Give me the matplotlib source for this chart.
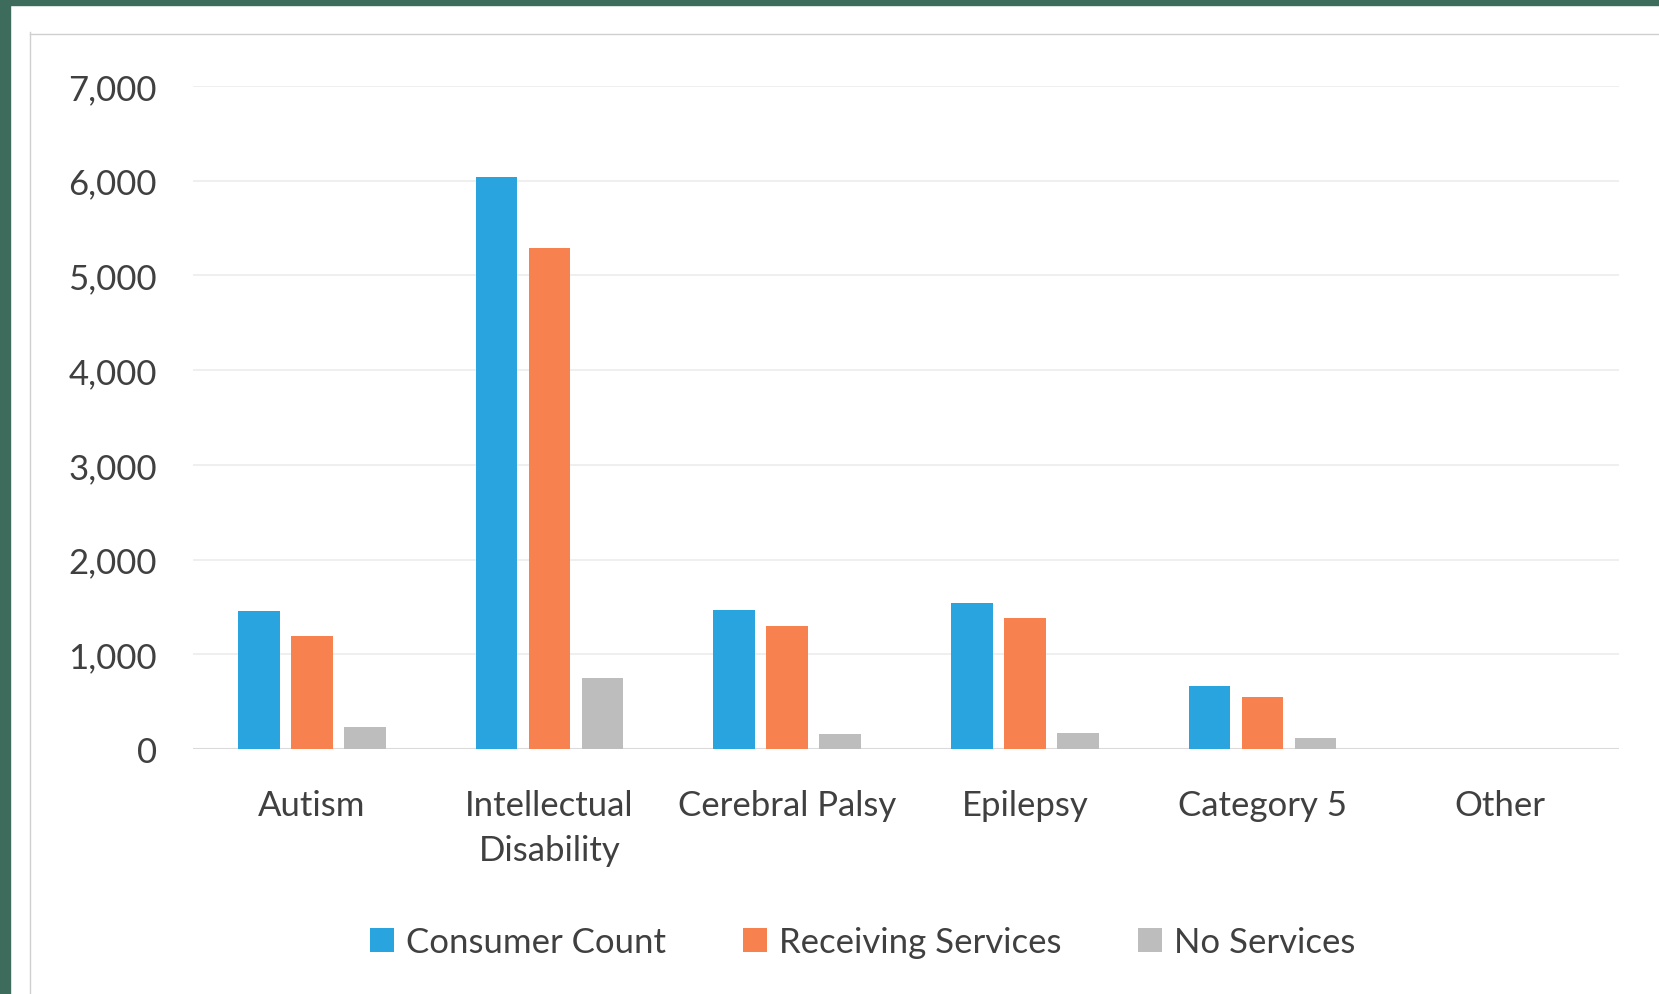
import matplotlib.pyplot as plt
import numpy as np
from matplotlib.patches import Rectangle
from matplotlib.lines import Line2D

categories = ['Autism', 'Intellectual\nDisability', 'Cerebral Palsy', 'Epilepsy', 'Category 5', 'Other']
consumer_count = [1460, 6040, 1470, 1540, 670, 0]
receiving_services = [1190, 5290, 1295, 1385, 550, 0]
no_services = [235, 750, 160, 170, 120, 0]
yticks = [0, 1000, 2000, 3000, 4000, 5000, 6000, 7000]

plt.rcParams['font.family'] = ['Lato', 'DejaVu Sans']
text_color = '#404040'

fig = plt.figure(figsize=(16.59, 9.95), dpi=100)
W, H = 1659, 995

# scanned page frame: green border top/left, faint chart box line
fig.patches.append(Rectangle((0, 0), 10 / W, 1, transform=fig.transFigure, color='#3d6b5c', zorder=0))
fig.patches.append(Rectangle((0, 1 - 6 / H), 1, 6 / H, transform=fig.transFigure, color='#3d6b5c', zorder=0))
fig.lines.append(Line2D([30 / W, 30 / W], [0, 1 - 33 / H], transform=fig.transFigure, color='#d0d0d0', lw=1))
fig.lines.append(Line2D([30 / W, 1], [1 - 35 / H, 1 - 35 / H], transform=fig.transFigure, color='#d0d0d0', lw=1))

ax = fig.add_axes([193 / W, 1 - 750 / H, (1619 - 193) / W, (750 - 87) / H])

x = np.arange(len(categories))
w = 0.175
off = 0.223
ax.bar(x - off, consumer_count, w, color='#2aa4df', label='Consumer Count', zorder=3)
ax.bar(x, receiving_services, w, color='#f7814f', label='Receiving Services', zorder=3)
ax.bar(x + off, no_services, w, color='#bdbdbd', label='No Services', zorder=3)

ax.set_xlim(-0.5, 5.5)
ax.set_ylim(0, 7000)
ax.set_yticks(yticks)
ax.set_yticklabels([f'{v:,}' for v in yticks])
ax.set_xticks(x)
ax.set_xticklabels(categories, linespacing=1.5)
ax.yaxis.grid(True, color='#ececec', lw=1.2, zorder=0)
ax.axhline(0, color='#dadada', lw=1.5, zorder=2)
for s in ax.spines.values():
    s.set_visible(False)
ax.tick_params(axis='y', length=0, pad=26, labelsize=25, labelcolor=text_color)
ax.tick_params(axis='x', length=0, pad=29, labelsize=25, labelcolor=text_color)

fig.legend(loc='center', bbox_to_anchor=(0.52, 1 - 943 / H), ncol=3, frameon=False,
           fontsize=25, labelcolor=text_color, handlelength=0.7, handleheight=0.7,
           handletextpad=0.35, columnspacing=2.2)

fig.savefig('out.png', dpi=100, facecolor='white')
